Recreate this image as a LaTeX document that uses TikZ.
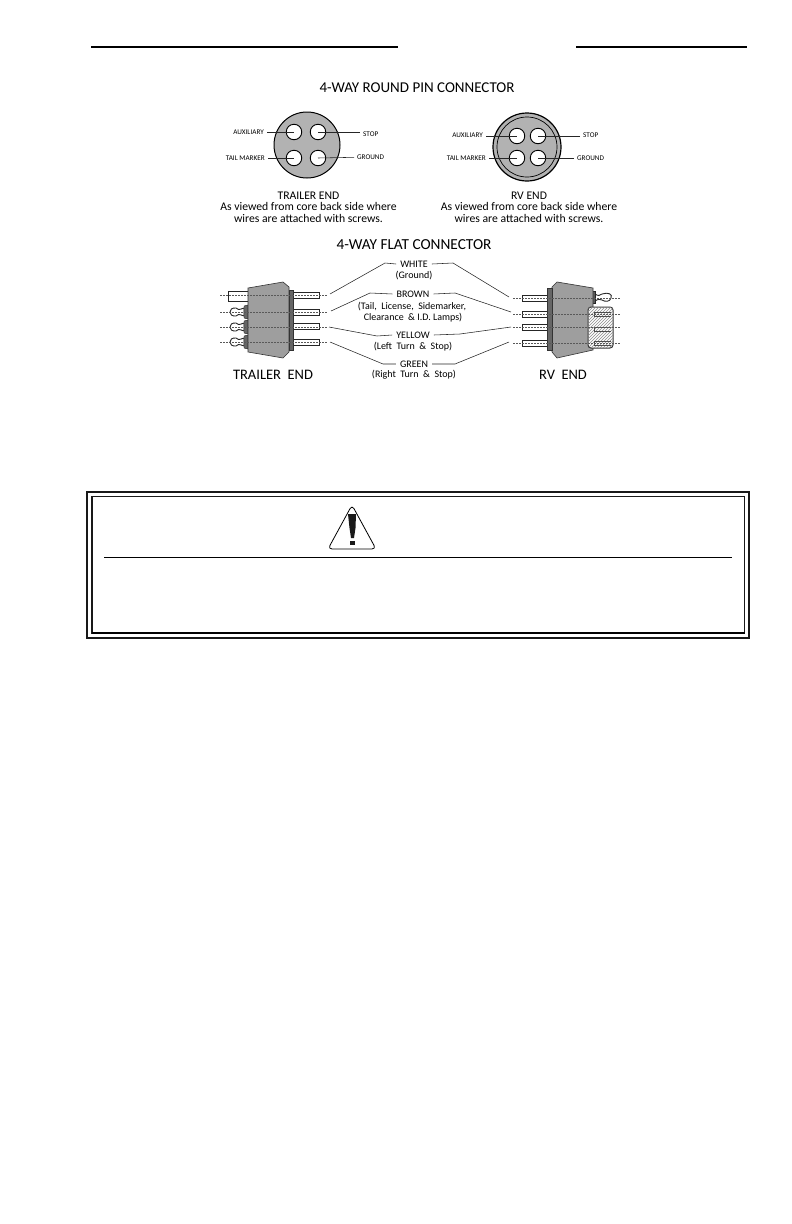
\documentclass[tikz,border=0pt]{standalone}
\usepackage{fontspec}
\setmainfont{Carlito}
\usetikzlibrary{patterns}
\tikzset{
  tiny label/.style={inner xsep=3pt, inner ysep=1pt, font=\fontsize{7.2}{8}\selectfont},
  caption/.style={inner sep=0pt, align=center, font=\fontsize{11.7}{11.6}\selectfont},
  wire label/.style={inner sep=0pt, align=center, font=\fontsize{10}{11.5}\selectfont},
  wire name/.style={wire label, inner xsep=4pt},
  title/.style={inner sep=0pt, font=\fontsize{15}{17}\selectfont},
  end label/.style={inner sep=0pt, font=\fontsize{14.5}{16}\selectfont},
  leader/.style={line width=0.55pt, black!85},
  center line/.style={line width=0.3pt, dash pattern=on 2pt off 1pt, black!65},
  body/.style={fill=black!38, draw=black!80, line width=0.6pt},
  flat pin/.style={fill=white, draw=black!85, line width=0.7pt},
  pin hole/.style={circle, fill=white, draw=black, line width=0.9pt, minimum size=15.5pt, inner sep=0pt}
}
\begin{document}
\begin{tikzpicture}[x=1pt, y=-1pt]
      \useasboundingbox (0, 0) rectangle (792, 1224);

      % header rules
      \draw [line width=1.6pt] (91, 47) -- (398, 47);
      \draw [line width=1.6pt] (576, 47) -- (747, 47);

      \node [title] (roundtitle) at (417, 88) {4-WAY ROUND PIN CONNECTOR};
      \node [title, font=\fontsize{15.3}{17}\selectfont] (flattitle) at (414, 245) {4-WAY FLAT CONNECTOR};

      % round connector, trailer end
      \fill [black!30, draw=black, line width=1pt] (307, 145) circle (33);
      \foreach \name/\x/\y in {ta/294/132, ts/318/132, tt/294/158, tg/318/158}
        \node [pin hole] (\name) at (\x, \y) {};
      \node [tiny label, anchor=east] (tauxlabel) at (267, 132) {AUXILIARY};
      \node [tiny label, anchor=west] (tstoplabel) at (360, 134) {STOP};
      \node [tiny label, anchor=east] (ttaillabel) at (268, 158) {TAIL MARKER};
      \node [tiny label, anchor=west] (tgndlabel) at (354, 157) {GROUND};
      \draw [leader] (tauxlabel) -- (ta.center);
      \draw [leader] (tstoplabel.west |- ts) -- (ts.center);
      \draw [leader] (ttaillabel) -- (tt.center);
      \draw [leader] (tgndlabel) -- (tg.center);
      \node [caption] (tcaption) at (308.5, 207) {TRAILER END\\As viewed from core back side where\\wires are attached with screws.};

      % round connector, RV end
      \fill [black!30, draw=black, line width=1.2pt] (527, 147) circle (34);
      \draw [line width=0.7pt] (527, 147) circle (30);
      \foreach \name/\x/\y in {ra/517/136, rs/538/136, rt/517/158, rg/538/158}
        \node [pin hole] (\name) at (\x, \y) {};
      \node [tiny label, anchor=east] (rauxlabel) at (486, 135) {AUXILIARY};
      \node [tiny label, anchor=west] (rstoplabel) at (580, 135) {STOP};
      \node [tiny label, anchor=east] (rtaillabel) at (489, 158) {TAIL MARKER};
      \node [tiny label, anchor=west] (rgndlabel) at (574, 158) {GROUND};
      \draw [leader] (rauxlabel.east |- ra) -- (ra.center);
      \draw [leader] (rstoplabel.west |- rs) -- (rs.center);
      \draw [leader] (rtaillabel) -- (rt.center);
      \draw [leader] (rgndlabel) -- (rg.center);
      \node [caption] (rcaption) at (529, 207) {RV END\\As viewed from core back side where\\wires are attached with screws.};

      % flat connector, trailer end
      \draw [flat pin, line width=1pt] (228, 291) rectangle (248, 301);
      \foreach \y in {312, 327, 342} {
        \draw [flat pin, line width=0.9pt] (236, \y-4) .. controls (228, \y-5) and (228, \y+5) .. (236, \y+4)
          .. controls (237, \y+2) and (239, \y+2) .. (244, \y+4) -- (244, \y-4)
          .. controls (239, \y-2) and (237, \y-2) .. (236, \y-4) -- cycle;
        \fill [black!60, draw=black!85, line width=0.4pt] (244, \y-6) -- (248, \y-7) -- (248, \y+7) -- (244, \y+6) -- cycle;
      }
      \draw [flat pin] (293, 292) rectangle (319, 298);
      \draw [flat pin] (293, 309) rectangle (319, 315);
      \draw [flat pin, line width=1pt] (293, 323) rectangle (319, 329);
      \draw [flat pin, line width=1pt] (293, 339) rectangle (319, 345);
      \draw [body] (248, 288) -- (283, 282) -- (289, 287) -- (289, 352) -- (283, 358) -- (248, 352) -- cycle;
      \fill [black!60, draw=black!80, line width=0.5pt] (289, 290) rectangle (293, 350);
      \foreach \y in {295, 312, 327, 342}
        \draw [center line] (220, \y) -- (327, \y);
      \node [end label] (trailerend) at (273, 375) {TRAILER\ \ END};

      % flat connector, RV end
      \draw [flat pin] (522, 295) rectangle (547, 301);
      \draw [flat pin] (522, 311) rectangle (547, 317);
      \draw [flat pin, line width=1pt] (522, 324) rectangle (547, 330);
      \draw [flat pin] (522, 340) rectangle (547, 346);
      \draw [flat pin, line width=0.9pt] (595, 294) .. controls (598, 296) and (600, 296) .. (602, 294)
        .. controls (608, 292) and (613, 294) .. (611, 298) .. controls (610, 302) and (605, 302) .. (602, 300)
        .. controls (600, 299) and (598, 299) .. (595, 301) -- cycle;
      \fill [black!65, draw=black!85, line width=0.4pt] (592, 291) rectangle (595, 303);
      \draw [body] (552, 287) -- (557, 282) -- (593, 288) -- (593, 350) -- (557, 358) -- (552, 352) -- cycle;
      \fill [black!60, draw=black!80, line width=0.5pt] (547, 288) rectangle (552, 350);
      \draw [rounded corners=3pt, fill=white, draw=black!80, line width=1pt] (588, 307) rectangle (613, 348);
      \fill [rounded corners=3pt, pattern=north east lines, pattern color=black!45] (588, 307) rectangle (613, 348);
      \foreach \y in {312, 327, 341}
        \draw [black!70, line width=0.6pt] (611, \y) -- (594, \y) -- (594, \y+4) -- (611, \y+4);
      \foreach \y in {298, 314, 327, 343}
        \draw [center line] (513, \y) -- (620, \y);
      \node [end label] (rvend) at (563, 375) {RV\ \ END};

      % wire names
      \node [wire name] (white) at (414, 264) {WHITE};
      \node [wire label] (ground) at (414, 276) {(Ground)};
      \node [wire name] (brown) at (413, 294) {BROWN};
      \node [wire label] (tail) at (412, 307) {(Tail,\ \ License,\ \ Sidemarker,};
      \node [wire label] (clearance) at (413, 318) {Clearance\ \ \&\ I.D.\ Lamps)};
      \node [wire name] (yellow) at (413, 335) {YELLOW};
      \node [wire label] (leftturn) at (413, 347) {(Left\ \ Turn\ \ \&\ \ Stop)};
      \node [wire name] (green) at (414, 364) {GREEN};
      \node [wire label] (rightturn) at (414, 375) {(Right\ \ Turn\ \ \&\ \ Stop)};

      \coordinate (tw) at (330, 294);
      \coordinate (tb) at (331, 311);
      \coordinate (ty) at (329, 327);
      \coordinate (tn) at (330, 342);
      \coordinate (rw) at (509, 297);
      \coordinate (rb) at (511, 312);
      \coordinate (ry) at (511, 327);
      \coordinate (rn) at (509, 342);

      \draw [leader] (tw) -- (385, 263) -- (white.west);
      \draw [leader] (tb) -- (370, 293) -- (brown.west);
      \draw [leader] (ty) -- (377, 336) -- (yellow.west);
      \draw [leader] (tn) -- (383, 364) -- (green.west);
      \draw [leader] (rw) -- (453, 263) -- (white.east);
      \draw [leader] (rb) -- (455, 293) -- (brown.east);
      \draw [leader] (ry) -- (460, 334) -- (yellow.east);
      \draw [leader] (rn) -- (455, 364) -- (green.east);

      % warning box
      \draw [line width=1.7pt, black!90] (87, 492) rectangle (749, 638);
      \draw [line width=1.7pt, black!90] (92, 496.5) rectangle (744.5, 633);
      \draw [line width=2.4pt] (92, 633) -- (744.5, 633);
      \draw [line width=1pt] (104, 557) -- (732, 557);
      \draw [line width=0.8pt, rounded corners=4pt, line join=round] (352, 505) -- (376, 549) -- (328, 549) -- cycle;
      \fill [black!90] (348, 514) -- (356, 514) -- (355.5, 528) -- (354, 538) -- (351, 538) -- (349.5, 528) -- cycle;
      \fill [black!90] (350, 541) rectangle (355, 544.5);
\end{tikzpicture}
\end{document}
